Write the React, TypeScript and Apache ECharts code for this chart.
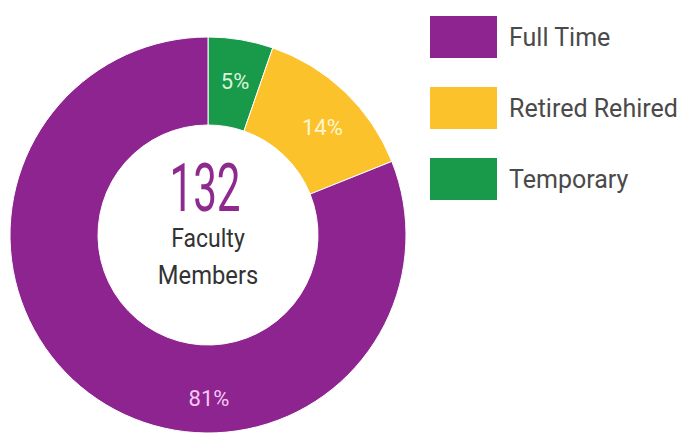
import React, { useEffect, useRef } from "react";
import * as echarts from "echarts";

const categories = ["Temporary", "Retired Rehired", "Full Time"];
const counts = [7, 18, 107];
const colors = ["#189a4a", "#fbc22c", "#8e2490"];
const labelColors = ["#d8f5dc", "#fff6d0", "#f4c8f2"];
const labelOffsets = [[1, 1], [6, 6], [89, 33]];
const legendOrder = ["Full Time", "Retired Rehired", "Temporary"];
const totalLabel = "132";
const subLabels = ["Faculty", "Members"];

const FONT = "Roboto, 'Noto Sans', sans-serif";

export default function App() {
  const ref = useRef<HTMLDivElement>(null);
  useEffect(() => {
    if (!ref.current) return;
    const chart = echarts.init(ref.current, undefined, { renderer: "svg" });
    const data = categories.map((name, i) => ({
      name,
      value: counts[i],
      itemStyle: { color: colors[i] },
      label: { color: labelColors[i], offset: labelOffsets[i] },
    }));
    chart.setOption({
      animation: false,
      backgroundColor: "#ffffff",
      legend: {
        orient: "vertical",
        left: 423,
        top: 9,
        itemWidth: 69,
        itemHeight: 44,
        itemGap: 25,
        icon: "rect",
        data: legendOrder,
        selectedMode: false,
        textStyle: {
          fontFamily: FONT,
          fontSize: 25,
          color: "#4a4a4a",
          padding: [0, 0, 0, 6],
        },
      },
      series: [
        {
          type: "pie",
          center: [208, 235],
          radius: [110, 198],
          startAngle: 90,
          clockwise: true,
          avoidLabelOverlap: false,
          itemStyle: { borderColor: "#ffffff", borderWidth: 1 },
          label: {
            show: true,
            position: "inside",
            fontFamily: FONT,
            fontSize: 22,
            formatter: (p: any) => Math.round(p.percent) + "%",
          },
          labelLine: { show: false },
          emphasis: { disabled: true },
          data,
        },
      ],
      graphic: [
        {
          type: "text",
          x: 205,
          y: 189,
          scaleX: 0.64,
          style: {
            text: totalLabel,
            fontFamily: FONT,
            fontSize: 66,
            fill: "#8e2a8e",
            align: "center",
            verticalAlign: "middle",
          },
        },
        {
          type: "text",
          x: 208,
          y: 239,
          scaleX: 0.92,
          style: {
            text: subLabels[0],
            fontFamily: FONT,
            fontSize: 25,
            fill: "#333333",
            align: "center",
            verticalAlign: "middle",
          },
        },
        {
          type: "text",
          x: 208,
          y: 275,
          scaleX: 0.95,
          style: {
            text: subLabels[1],
            fontFamily: FONT,
            fontSize: 25,
            fill: "#333333",
            align: "center",
            verticalAlign: "middle",
          },
        },
      ],
    });
    return () => chart.dispose();
  }, []);
  return (
    <div
      ref={ref}
      style={{ position: "absolute", left: 0, top: 0, width: 681, height: 435 }}
    />
  );
}
